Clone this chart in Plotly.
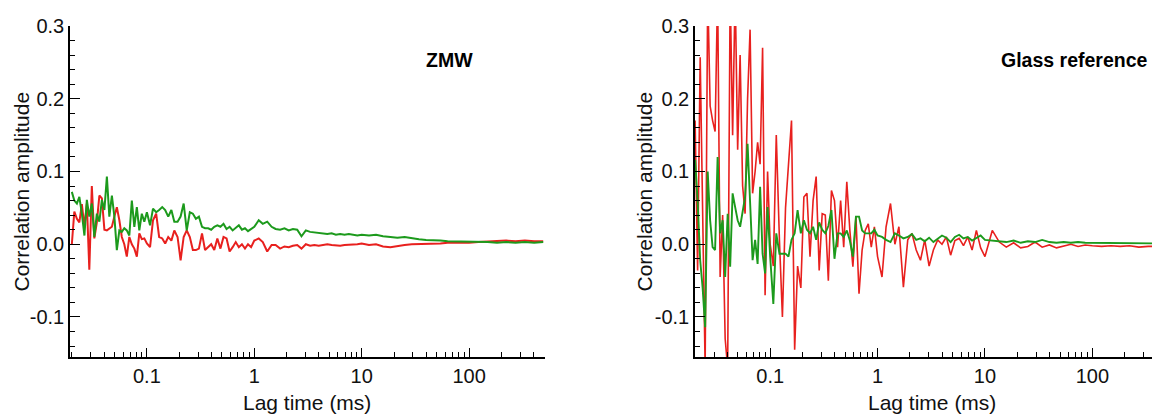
import plotly.graph_objects as go

# lag times (ms), shared by all four curves
lag_ms = [0.0200, 0.0211, 0.0223, 0.0235, 0.0248, 0.0262, 0.0276, 0.0291, 0.0307, 0.0324,
          0.0342, 0.0361, 0.0381, 0.0402, 0.0424, 0.0447, 0.0472, 0.0498, 0.0525, 0.0554,
          0.0584, 0.0616, 0.0650, 0.0686, 0.0724, 0.0764, 0.0806, 0.0850, 0.0897, 0.0946,
          0.100,
          0.107, 0.114, 0.122, 0.130, 0.139, 0.148, 0.158, 0.169, 0.180, 0.193,
          0.206, 0.220, 0.235, 0.251, 0.268, 0.286, 0.305, 0.326, 0.348, 0.372,
          0.397, 0.424, 0.453, 0.484, 0.517, 0.552, 0.589, 0.629, 0.672, 0.718,
          0.767, 0.819, 0.874, 0.934, 1.00,
          1.10, 1.20, 1.32, 1.45, 1.58, 1.74, 1.91, 2.09, 2.29, 2.51,
          2.75, 3.02, 3.31, 3.63, 3.98, 4.37, 4.79, 5.25, 5.75, 6.31,
          6.92, 7.59, 8.32, 9.12, 10.0,
          11.7, 13.6, 15.8, 18.5, 21.5, 25.1, 29.3, 34.1, 39.8, 46.4,
          54.1, 63.1, 73.6, 85.8, 100,
          122, 149, 182, 222, 271, 331, 404, 490]

zmw_green = [0.072, 0.060, 0.056, 0.065, 0.042, 0.012, 0.061, 0.038, 0.056, 0.010,
             0.042, 0.031, 0.061, 0.047, 0.093, 0.038, 0.067, 0.038, -0.008, 0.019,
             0.017, 0.022, 0.019, 0.012, 0.060, 0.024, 0.051, 0.019, 0.042, 0.031,
             0.044, 0.026, 0.049, 0.044, 0.047, 0.051, 0.047, 0.038, 0.047, 0.031,
             0.031, 0.038, 0.056, 0.019, 0.044, 0.042, 0.035, 0.038, 0.024, 0.022,
             0.022, 0.020, 0.024, 0.026, 0.024, 0.028, 0.021, 0.024, 0.019, 0.022,
             0.026, 0.020, 0.022, 0.018, 0.021, 0.024,
             0.033, 0.028, 0.031, 0.024, 0.021, 0.020, 0.022, 0.019, 0.021, 0.020,
             0.011, 0.019, 0.017, 0.016, 0.015, 0.015, 0.014, 0.015, 0.013, 0.014,
             0.013, 0.014, 0.013, 0.012, 0.013,
             0.012, 0.013, 0.011, 0.010, 0.009, 0.010, 0.008, 0.007, 0.006, 0.006,
             0.005, 0.004, 0.004, 0.003, 0.003,
             0.003, 0.003, 0.002, 0.003, 0.002, 0.003, 0.002, 0.003]

zmw_red = [0.000, 0.045, 0.035, 0.030, 0.055, 0.024, 0.056, -0.035, 0.080, 0.008,
           0.030, 0.067, 0.063, 0.020, 0.019, 0.022, 0.024, 0.038, 0.051, 0.033,
           0.010, 0.000, -0.017, 0.010, 0.000, -0.006, -0.017, 0.015, 0.007, 0.008,
           0.001, -0.004, 0.033, 0.042, 0.010, 0.008, 0.001, 0.010, 0.005, 0.019,
           0.010, -0.022, 0.010, 0.019, 0.010, -0.008, -0.008, -0.006, 0.015, -0.008,
           -0.004, 0.000, -0.008, 0.008, -0.006, 0.010, 0.008, -0.010, -0.004, 0.003,
           -0.004, 0.000, -0.006, 0.000, -0.004, 0.005,
           0.008, 0.003, -0.010, -0.001, -0.001, -0.006, -0.003, -0.004, -0.002, -0.001,
           -0.006, 0.000, -0.002, -0.001, -0.002, -0.001, 0.000, -0.001, -0.002, -0.002,
           -0.001, -0.001, 0.000, 0.000, 0.001,
           -0.001, 0.000, -0.003, -0.004, -0.002, -0.001, 0.000, 0.000, 0.000, 0.001,
           0.001, 0.002, 0.002, 0.001, 0.002,
           0.003, 0.004, 0.005, 0.005, 0.004, 0.005, 0.004, 0.004]

glass_green = [0.116, 0.060, -0.022, -0.060, -0.114, 0.100, 0.033, -0.004, -0.008, 0.120,
               0.015, 0.033, -0.045, 0.042, -0.031, 0.070, 0.051, 0.033, 0.024, 0.042,
               0.065, 0.138, 0.051, -0.022, 0.006, -0.027, 0.079, -0.013, -0.040, 0.051,
               -0.017, -0.082, 0.015, -0.013, -0.013, -0.013, -0.017, 0.006, 0.015, 0.047,
               0.015, 0.033, 0.020, 0.015, 0.024, 0.006, 0.030, 0.020, 0.015, 0.025,
               0.047, -0.020, 0.015, 0.015, 0.010, 0.019, 0.005, -0.017, 0.038, 0.038,
               0.019, 0.015, 0.015, 0.015, 0.020, 0.012,
               0.010, 0.006, 0.003, 0.015, 0.012, 0.008, 0.010, 0.014, 0.006, 0.008,
               0.004, 0.009, 0.003, 0.007, 0.012, 0.009, 0.003, 0.010, 0.013, 0.008,
               0.010, 0.005, 0.008, 0.012, 0.006,
               0.005, 0.004, 0.003, 0.005, 0.002, 0.004, 0.003, 0.006, 0.003, 0.002,
               0.003, 0.002, 0.003, 0.002, 0.002,
               0.002, 0.001, 0.002, 0.001, 0.001, 0.002, 0.001, 0.001]

glass_red = [0.170, -0.036, 0.257, 0.050, -0.170, 0.350, 0.190, 0.170, 0.155, 0.350,
             -0.045, 0.040, -0.130, -0.170, 0.350, 0.150, 0.350, 0.130, 0.260, 0.080,
             0.042, 0.200, 0.295, 0.070, 0.100, 0.140, 0.110, 0.270, -0.070, 0.100,
             0.000, -0.030, 0.150, 0.005, -0.100, 0.050, 0.110, 0.170, -0.145, -0.030,
             -0.060, 0.065, 0.070, -0.017, 0.060, 0.093, -0.036, 0.042, 0.040, -0.050,
             0.074, 0.060, -0.004, 0.060, -0.004, 0.086, 0.019, -0.031, 0.038, -0.068,
             -0.008, 0.019, 0.028, -0.004, 0.024, -0.017,
             -0.045, 0.024, 0.056, 0.000, 0.024, -0.059, 0.006, 0.015, -0.008, -0.022,
             0.006, -0.030, -0.008, 0.006, 0.000, 0.010, -0.015, 0.005, 0.008, -0.002,
             0.010, -0.008, 0.019, -0.005, -0.017,
             0.019, 0.003, -0.004, 0.002, -0.005, -0.003, 0.003, -0.004, -0.001, -0.005,
             -0.002, 0.000, -0.003, -0.001, -0.002,
             -0.003, -0.002, -0.003, -0.002, -0.004, -0.003, -0.003, -0.003]

x_ticks = [0.1, 1, 10, 100]
x_labels = ["0.1", "1", "10", "100"]
y_ticks = [-0.1, 0.0, 0.1, 0.2, 0.3]
y_labels = ["-0.1", "0.0", "0.1", "0.2", "0.3"]

RED = "#e8201e"
GREEN = "#1c9a1c"
FONT = "Arial, Liberation Sans, sans-serif"
W = 1160.0

fig = go.Figure()

fig.add_trace(go.Scatter(x=lag_ms, y=zmw_red, mode="lines", line=dict(color=RED, width=2),
                         xaxis="x", yaxis="y", showlegend=False))
fig.add_trace(go.Scatter(x=lag_ms, y=zmw_green, mode="lines", line=dict(color=GREEN, width=2),
                         xaxis="x", yaxis="y", showlegend=False))
fig.add_trace(go.Scatter(x=lag_ms, y=glass_red, mode="lines", line=dict(color=RED, width=1.6),
                         xaxis="x2", yaxis="y2", showlegend=False))
fig.add_trace(go.Scatter(x=lag_ms, y=glass_green, mode="lines", line=dict(color=GREEN, width=1.9),
                         xaxis="x2", yaxis="y2", showlegend=False))

xcommon = dict(type="log", showline=True, linecolor="black", linewidth=1.5, mirror=False,
               showgrid=False, zeroline=False, ticks="inside", ticklen=9, tickwidth=1.3,
               tickcolor="black", tickvals=x_ticks, ticktext=x_labels,
               minor=dict(ticks="inside", ticklen=5, tickwidth=1.2, tickcolor="black",
                          dtick="D1", showgrid=False),
               tickfont=dict(family=FONT, size=20, color="#111"),
               ticklabelstandoff=0)
ycommon = dict(range=[-0.155, 0.3], showline=True, linecolor="black", linewidth=1.5,
               showgrid=False, zeroline=False, ticks="inside", ticklen=10, tickwidth=1.3,
               tickcolor="black", tickvals=y_ticks, ticktext=y_labels,
               minor=dict(ticks="inside", ticklen=5, tickwidth=1.2, tickcolor="black",
                          tick0=0, dtick=0.02, showgrid=False),
               tickfont=dict(family=FONT, size=20, color="#111"),
               ticklabelstandoff=0)

title_font = dict(family=FONT, size=21, color="#111")
label_font = dict(family=FONT, size=19.5, color="black")

# the page puts the plot 8 px in from the top-left corner; positions below allow for that
fig.update_layout(
    width=1160, height=415,
    paper_bgcolor="white", plot_bgcolor="white",
    margin=dict(l=0, r=0, t=18, b=66),
    xaxis=dict(xcommon, domain=[62 / W, 537 / W], range=[-1.716, 2.707], anchor="y"),
    yaxis=dict(ycommon, anchor="x"),
    xaxis2=dict(xcommon, domain=[687 / W, 1152 / W], range=[-1.70, 2.63], anchor="y2"),
    yaxis2=dict(ycommon, anchor="x2"),
    annotations=[
        dict(text="Correlation amplitude", textangle=-90, x=13 / W, y=0.5,
             xref="paper", yref="paper", xanchor="center", yanchor="middle",
             showarrow=False, font=title_font),
        dict(text="Correlation amplitude", textangle=-90, x=636 / W, y=0.5,
             xref="paper", yref="paper", xanchor="center", yanchor="middle",
             showarrow=False, font=title_font),
        dict(text="Lag time (ms)", x=299.5 / W, y=-0.136, xref="paper", yref="paper",
             xanchor="center", yanchor="middle", showarrow=False, font=title_font),
        dict(text="Lag time (ms)", x=924 / W, y=-0.136, xref="paper", yref="paper",
             xanchor="center", yanchor="middle", showarrow=False, font=title_font),
        dict(text="<b>ZMW</b>", x=441 / W, y=0.897, xref="paper", yref="paper",
             xanchor="center", yanchor="middle", showarrow=False, font=label_font),
        dict(text="<b>Glass reference</b>", x=1066 / W, y=0.897, xref="paper", yref="paper",
             xanchor="center", yanchor="middle", showarrow=False, font=label_font),
    ],
)

fig.write_html("out.html")
